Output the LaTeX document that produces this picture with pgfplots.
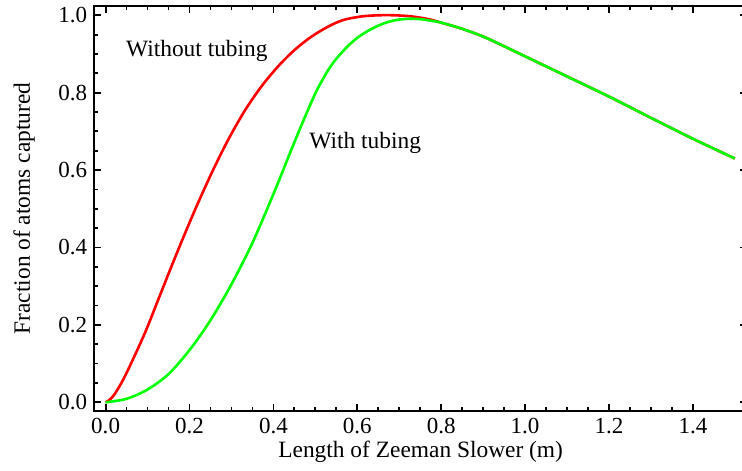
\documentclass[border=0pt]{standalone}
\usepackage{fontspec}
\setmainfont{Liberation Serif}
\usepackage{pgfplots}
\pgfplotsset{compat=1.18}
\usetikzlibrary{calc}
\definecolor{cRed}{HTML}{FF0000}
\definecolor{cGreen}{HTML}{00FF00}

\begin{document}
\begin{tikzpicture}
\begin{axis}[
  scale only axis, width=326.35pt, height=202.5pt,
  xmin=-0.027, xmax=1.529, ymin=-0.0225, ymax=1.024,
  xtick={0,0.2,...,1.41}, ytick={0,0.2,...,1.01},
  minor tick num=3,
  tick pos=both, tick align=inside,
  major tick length=3.5pt, minor tick length=2pt,
  every tick/.style={black, line width=0.9pt},
  axis line style={line width=1.2pt},
  font=\rmfamily\fontsize{11.7}{14}\selectfont,
  tick label style={font=\rmfamily\fontsize{11.5}{14}\selectfont},
  /pgf/number format/assume math mode=true,
  /pgf/number format/.cd, fixed, fixed zerofill, precision=1, /pgfplots/.cd,
  xlabel={Length of Zeeman Slower (m)},
  ylabel={Fraction of atoms captured},
  xlabel style={at={(axis description cs:0.5,-0.101)}, anchor=center, font=\rmfamily\fontsize{11.7}{14}\selectfont},
  ylabel style={at={(axis description cs:-0.1077,0.5)}, anchor=center, font=\rmfamily\fontsize{11.7}{14}\selectfont},
  clip=true,
]
% Without tubing
\addplot[cRed, line width=1.3pt, smooth] coordinates {
  (0,0) (0.010,0.007) (0.020,0.019) (0.035,0.045) (0.054,0.085) (0.094,0.180)
  (0.133,0.286) (0.173,0.394) (0.213,0.497) (0.253,0.593) (0.292,0.678)
  (0.332,0.754) (0.372,0.817) (0.412,0.869) (0.451,0.911) (0.491,0.945)
  (0.531,0.971) (0.567,0.988) (0.610,0.997) (0.650,1.000) (0.690,1.000)
  (0.730,0.997) (0.770,0.990) (0.800,0.981) (0.850,0.965) (0.900,0.945)
  (0.950,0.920) (1.000,0.894) (1.050,0.868) (1.100,0.842) (1.200,0.790)
  (1.300,0.735) (1.400,0.681) (1.500,0.630)};
% With tubing
\addplot[cGreen, line width=1.3pt, smooth] coordinates {
  (0,0) (0.05,0.009) (0.10,0.033) (0.15,0.073) (0.20,0.135) (0.25,0.212)
  (0.30,0.305) (0.35,0.412) (0.40,0.538) (0.45,0.672) (0.479,0.747)
  (0.503,0.805) (0.527,0.852) (0.543,0.878) (0.559,0.899) (0.579,0.922)
  (0.599,0.941) (0.618,0.955) (0.638,0.967) (0.658,0.977) (0.678,0.984)
  (0.700,0.989) (0.726,0.991) (0.750,0.990) (0.775,0.986) (0.800,0.981)
  (0.850,0.965) (0.900,0.945) (0.950,0.920) (1.000,0.894) (1.050,0.868)
  (1.100,0.842) (1.200,0.790) (1.300,0.735) (1.400,0.681) (1.500,0.630)};
\node[anchor=base west, inner sep=0pt] at (axis cs:0.048,0.893) {Without tubing};
\node[anchor=base west, inner sep=0pt] at (axis cs:0.485,0.656) {With tubing};
\coordinate (O) at (rel axis cs:0,0);
\end{axis}
\pgfresetboundingbox
\path[use as bounding box] ($(O)+(-47.15pt,-29.5pt)$) rectangle ($(O)+(323.85pt,205.5pt)$);
\end{tikzpicture}
\end{document}
